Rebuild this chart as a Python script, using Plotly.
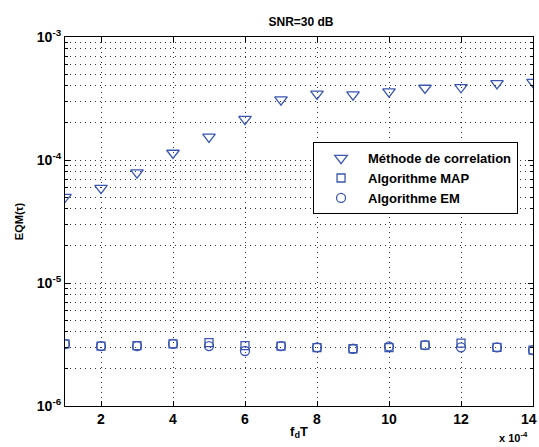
import plotly.graph_objects as go

fdT = [1, 2, 3, 4, 5, 6, 7, 8, 9, 10, 11, 12, 13, 14]
corr = [5.0e-5, 5.9e-5, 7.9e-5, 1.14e-4, 1.54e-4, 2.15e-4, 3.1e-4, 3.45e-4,
        3.4e-4, 3.6e-4, 3.85e-4, 3.9e-4, 4.2e-4, 4.3e-4]
map_ = [3.2e-6, 3.07e-6, 3.1e-6, 3.2e-6, 3.27e-6, 3.1e-6, 3.07e-6, 2.98e-6,
        2.92e-6, 2.98e-6, 3.12e-6, 3.25e-6, 3.0e-6, 2.85e-6]
em = [3.19e-6, 3.07e-6, 3.07e-6, 3.2e-6, 3.07e-6, 2.8e-6, 3.07e-6, 3.0e-6,
      2.92e-6, 3.05e-6, 3.12e-6, 3.0e-6, 3.0e-6, 2.85e-6]
names = ["Méthode de correlation", "Algorithme MAP", "Algorithme EM"]
xticks = [2, 4, 6, 8, 10, 12, 14]
ymaj = [1e-6, 1e-5, 1e-4, 1e-3]
ymaj_txt = ["10<sup>-6</sup>", "10<sup>-5</sup>", "10<sup>-4</sup>", "10<sup>-3</sup>"]

col = "#3a56b0"
FONT = "Arial, Liberation Sans, Helvetica, sans-serif"
GRID = "#333333"
DOT = "1px,4px"

ymin = [d * m for d in ymaj[:-1] for m in range(2, 10)]

fig = go.Figure()
fig.add_trace(go.Scatter(x=fdT, y=corr, mode="markers", name="<b>" + names[0] + "</b>",
                         marker=dict(symbol="triangle-down-open", size=11, color=col, line=dict(width=1.3))))
fig.add_trace(go.Scatter(x=fdT, y=map_, mode="markers", name="<b>" + names[1] + "</b>",
                         marker=dict(symbol="square-open", size=8, color=col, line=dict(width=1.3))))
fig.add_trace(go.Scatter(x=fdT, y=em, mode="markers", name="<b>" + names[2] + "</b>",
                         marker=dict(symbol="circle-open", size=9, color=col, line=dict(width=1.3))))

fig.update_layout(
    width=539, height=447,
    margin=dict(l=65, r=6, t=37, b=41),
    paper_bgcolor="white", plot_bgcolor="white",
    font=dict(family=FONT, size=13, color="black"),
    title=dict(text="<b>SNR=30 dB</b>", x=301 / 539, xanchor="center", y=1 - 22 / 447,
               yanchor="middle", font=dict(size=12, family=FONT)),
    showlegend=True,
    legend=dict(x=0.53, y=0.715, xanchor="left", yanchor="top",
                bordercolor="black", borderwidth=1, bgcolor="white",
                font=dict(size=13, family=FONT), tracegroupgap=0,
                itemwidth=44),
    xaxis=dict(range=[1, 14], tickvals=xticks[:-1], ticktext=["<b>%d</b>" % v for v in xticks[:-1]],
               showgrid=True, gridcolor=GRID, griddash=DOT, gridwidth=1,
               showline=True, linecolor="black", linewidth=1.2, mirror="ticks",
               ticks="inside", ticklen=5, tickcolor="black", zeroline=False,
               tickfont=dict(size=14, family=FONT),
               title=dict(text="<b>f<sub>d</sub>T</b>", standoff=0, font=dict(size=13, family=FONT))),
    yaxis=dict(type="log", range=[-6, -3], tickvals=ymaj, ticktext=["<b>" + t + "</b>" for t in ymaj_txt],
               showgrid=True, gridcolor=GRID, griddash=DOT, gridwidth=1,
               showline=True, linecolor="black", linewidth=1.2, mirror="ticks",
               ticks="inside", ticklen=5, tickcolor="black", zeroline=False,
               tickfont=dict(size=14, family=FONT),
               minor=dict(tickvals=ymin, showgrid=True, gridcolor=GRID, griddash=DOT, gridwidth=1,
                          ticks="inside", ticklen=3, tickcolor="black"),
               title=dict(text="<b>EQM(τ)</b>", standoff=10, font=dict(size=11, family=FONT))),
)
fig.add_annotation(text="<b>%d</b>" % xticks[-1], xref="paper", yref="paper",
                   x=1.012, y=0, yshift=-3, xanchor="right", yanchor="top",
                   showarrow=False, font=dict(size=14, family=FONT))
fig.add_annotation(text="<b>x 10<sup>-4</sup></b>", xref="paper", yref="paper",
                   x=(497 - 65) / 468, y=-0.085, xanchor="left", yanchor="middle",
                   showarrow=False, font=dict(size=11, family=FONT))
fig.write_html("out.html")
